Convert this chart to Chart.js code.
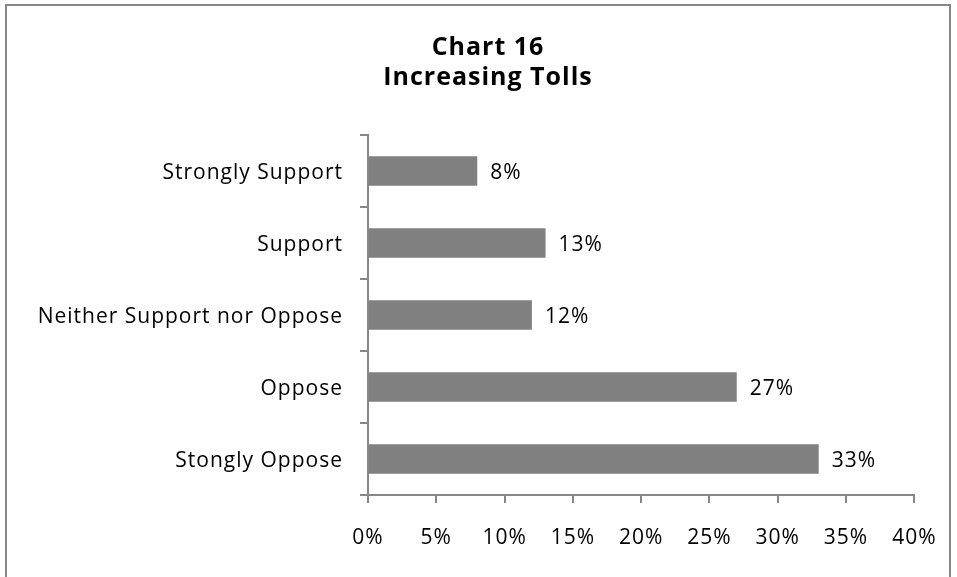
<!DOCTYPE html>
<html>
<head>
<meta charset="utf-8">
<script src="https://cdn.jsdelivr.net/npm/chart.js@4.4.0/dist/chart.umd.min.js"></script>
<style>
  html, body { margin: 0; padding: 0; background: #fff; overflow: hidden; }
  #frame {
    position: absolute; left: 5px; top: 4px; width: 946px; height: 600px;
    border: 2px solid #878787; box-sizing: border-box;
  }
  #wrap { position: absolute; left: 0; top: 0; width: 957px; height: 577px; }
</style>
</head>
<body>
<div id="frame"></div>
<div id="wrap"><canvas id="myChart" width="957" height="577"></canvas></div>
<script>
let answerLabels = [
  "Strongly Support",
  "Support",
  "Neither Support nor Oppose",
  "Oppose",
  "Stongly Oppose",
];
let percentData = [8, 13, 12, 27, 33];
let xTicks = [0, 5, 10, 15, 20, 25, 30, 35, 40];

const axisGray = "#868686";
const fontFamily = "'Open Sans', 'Noto Sans', sans-serif";

// slightly looser letter spacing for every text on the canvas
const spacing = {
  id: "spacing",
  beforeDraw(chart) {
    chart.ctx.letterSpacing = "1px";
  },
};

// writes the percentage just past the end of each bar
const valueLabels = {
  id: "valueLabels",
  afterDatasetsDraw(chart) {
    const ctx = chart.ctx;
    const meta = chart.getDatasetMeta(0);
    ctx.save();
    ctx.font = "21px " + fontFamily;
    ctx.fillStyle = "#000";
    ctx.textAlign = "left";
    ctx.textBaseline = "middle";
    meta.data.forEach((bar, i) => {
      ctx.fillText(percentData[i] + "%", bar.x + 13, bar.y + 2);
    });
    ctx.restore();
  },
};

const dataChart = {
  labels: answerLabels,
  datasets: [
    {
      data: percentData,
      backgroundColor: "#808080",
      categoryPercentage: 1,
      barPercentage: 0.41,
    },
  ],
};

const config = {
  type: "bar",
  data: dataChart,
  options: {
    indexAxis: "y",
    responsive: false,
    animation: false,
    layout: { padding: { left: 19, right: 0, top: 0, bottom: 0 } },
    plugins: {
      legend: { display: false },
      tooltip: { enabled: false },
      title: {
        display: true,
        text: ["Chart 16", "Increasing Tolls"],
        color: "#000",
        font: { family: fontFamily, size: 25, weight: "bold", lineHeight: 1.2 },
        padding: { top: 33, bottom: 42 },
      },
    },
    scales: {
      x: {
        min: 0,
        max: 40,
        afterBuildTicks: (scale) => {
          scale.ticks = xTicks.map((v) => ({ value: v }));
        },
        afterFit: (scale) => {
          scale.height = 82;
        },
        border: { color: axisGray, width: 2 },
        grid: {
          drawOnChartArea: false,
          color: axisGray,
          lineWidth: 2,
          tickLength: 8,
        },
        ticks: {
          padding: 22,
          color: "#000",
          font: { family: fontFamily, size: 21 },
          callback: (v) => v + "%",
        },
      },
      y: {
        afterFit: (scale) => {
          scale.width = 349;
        },
        border: { color: axisGray, width: 2 },
        grid: {
          drawOnChartArea: false,
          color: axisGray,
          lineWidth: 2,
          tickLength: 8,
          offset: true,
        },
        ticks: {
          padding: 17,
          labelOffset: 2,
          color: "#000",
          font: { family: fontFamily, size: 21 },
        },
      },
    },
  },
  plugins: [spacing, valueLabels],
};

let myChart = new Chart(document.getElementById("myChart"), config);
</script>
</body>
</html>
